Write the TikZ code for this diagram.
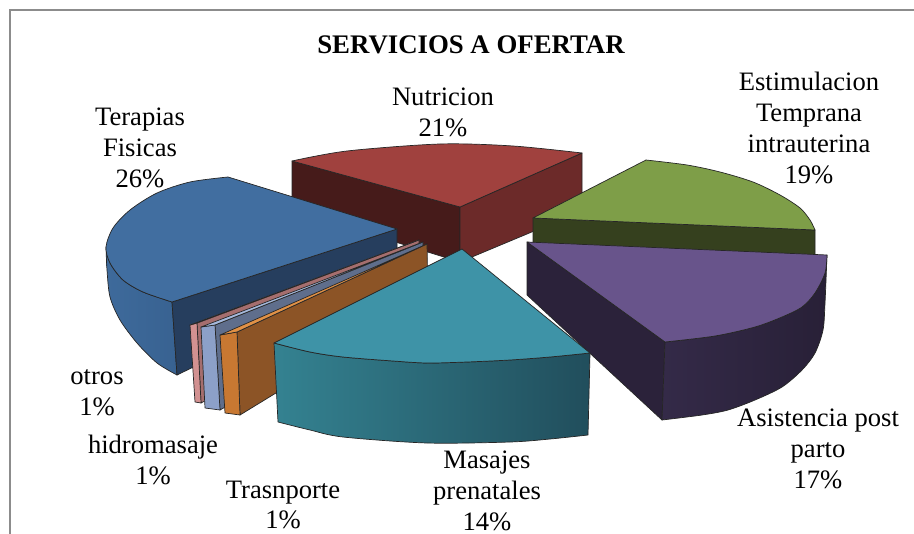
\documentclass[tikz,border=0pt]{standalone}
\usepackage{fontspec}
\setmainfont{Liberation Serif}
\definecolor{framegray}{RGB}{140,140,140}
\definecolor{redT}{RGB}{160,65,62}
\definecolor{redL}{RGB}{70,27,26}
\definecolor{redR}{RGB}{108,42,41}
\definecolor{greenT}{RGB}{126,158,72}
\definecolor{greenF}{RGB}{53,64,30}
\definecolor{blueT}{RGB}{65,110,160}
\definecolor{blueSa}{RGB}{62,106,155}
\definecolor{blueSb}{RGB}{56,98,145}
\definecolor{blueD}{RGB}{38,62,94}
\definecolor{purT}{RGB}{104,84,139}
\definecolor{purD}{RGB}{43,34,58}
\definecolor{purSa}{RGB}{52,42,72}
\definecolor{purSb}{RGB}{40,32,55}
\definecolor{tealT}{RGB}{62,147,167}
\definecolor{tealSa}{RGB}{52,130,145}
\definecolor{tealSb}{RGB}{33,78,92}
\definecolor{orT}{RGB}{225,145,70}
\definecolor{orF}{RGB}{200,120,50}
\definecolor{orD}{RGB}{140,84,38}
\definecolor{lbT}{RGB}{165,185,220}
\definecolor{lbF}{RGB}{140,160,200}
\definecolor{lbD}{RGB}{95,110,140}
\definecolor{pinkT}{RGB}{230,170,170}
\definecolor{pinkF}{RGB}{210,145,145}
\definecolor{pinkD}{RGB}{165,110,110}
\begin{document}
\begin{tikzpicture}[x=0.5pt,y=-0.5pt,
  edge/.style={draw=black!85, line width=0.35pt, line join=round},
  lbl/.style={font=\fontsize{13.3}{15.4}\selectfont, align=center, inner sep=0pt},
  ttl/.style={font=\fontsize{13.4}{15.4}\selectfont\bfseries, inner sep=0pt}]
\useasboundingbox (0,0) rectangle (914,534);
\fill[white] (0,0) rectangle (914,534);
\draw[framegray, line width=0.75pt] (10,534) -- (10,10) -- (914,10);

% Nutricion (red)
\path[edge, fill=redL] (292,161) -- (460,207) -- (460,262) -- (292,210) -- cycle;
\path[edge, fill=redR] (460,207) -- (582,153) -- (582,211) -- (460,262) -- cycle;
\path[edge, fill=redT] (460,207) -- plot[smooth] coordinates {(292,161) (347,151) (440,144) (513,146) (582,153)} -- cycle;

% Estimulacion (green)
\path[edge, fill=greenF] (533,218) -- (815,230) -- (815,262) -- (533,252) -- cycle;
\path[edge, fill=greenT] (533,218) -- plot[smooth] coordinates {(646,160) (687,165) (720,172) (753,182) (780,195) (800,208) (810,220) (815,230)} -- cycle;

% Terapias (blue)
\shadedraw[edge, left color=blueSa, right color=blueSb] plot[smooth] coordinates {(106,247) (110,263) (123,280) (143,292) (172,302)} -- (177,375) -- plot[smooth] coordinates {(177,375) (157,363) (137,343) (120,320) (110,297) (107,270) (106,247)} -- cycle;
\path[edge, fill=blueD] (172,302) -- (397,229) -- (397,268) -- (177,375) -- cycle;
\path[edge, fill=blueT] (397,229) -- plot[smooth] coordinates {(228,177) (190,182) (157,193) (130,210) (113,228) (106,247) (110,263) (123,280) (143,292) (172,302)} -- cycle;

% otros (pink)
\path[edge, fill=pinkD] (197,323) -- (419,240) -- (420,290) -- (201,403) -- cycle;
\path[edge, fill=pinkF] (190,325) -- (197,323) -- (201,403) -- (195,402) -- cycle;
\path[edge, fill=pinkT] (190,325) -- (419,240) -- (197,323) -- cycle;

% hidromasaje (light blue)
\path[edge, fill=lbD] (215,325) -- (423,242) -- (424,295) -- (220,410) -- cycle;
\path[edge, fill=lbF] (201,327) -- (215,325) -- (220,410) -- (205,408) -- cycle;
\path[edge, fill=lbT] (201,327) -- (423,242) -- (215,325) -- cycle;

% Trasnporte (orange)
\path[edge, fill=orD] (237,332) -- (427,244) -- (428,300) -- (240,415) -- cycle;
\path[edge, fill=orF] (220,335) -- (237,332) -- (240,415) -- (225,413) -- cycle;
\path[edge, fill=orT] (220,335) -- (427,244) -- (237,332) -- cycle;

% Asistencia (purple)
\path[edge, fill=purD] (527,242) -- (665,342) -- (662,420) -- (527,295) -- cycle;
\shadedraw[edge, left color=purSa, right color=purSb] plot[smooth] coordinates {(827,255) (825,273) (815,293) (802,307) (782,317) (755,327) (715,336) (665,342)} -- (662,420) -- plot[smooth] coordinates {(662,420) (702,415) (728,410) (755,400) (782,387) (802,370) (815,353) (823,330) (825,303) (827,255)} -- cycle;
\path[edge, fill=purT] (527,242) -- plot[smooth] coordinates {(827,255) (825,273) (815,293) (802,307) (782,317) (755,327) (715,336) (665,342)} -- cycle;

% Masajes (teal)
\shadedraw[edge, left color=tealSa, right color=tealSb] plot[smooth] coordinates {(274,343) (310,352) (343,357) (393,361) (427,363) (467,362) (510,360) (550,357) (590,353)} -- (588,435) -- plot[smooth] coordinates {(588,435) (550,439) (510,442) (427,443) (343,437) (310,430) (278,422)} -- cycle;
\path[edge, fill=tealT] (462,249) -- plot[smooth] coordinates {(590,353) (550,357) (510,360) (467,362) (427,363) (393,361) (343,357) (310,352) (274,343)} -- cycle;

% Labels
\node[ttl] (title) at (471,45) {SERVICIOS A OFERTAR};
\node[lbl] (lnut) at (443,112) {Nutricion\\21\%};
\node[lbl] (lter) at (140,148) {Terapias\\Fisicas\\26\%};
\node[lbl] (lest) at (809,128) {Estimulacion\\Temprana\\intrauterina\\19\%};
\node[lbl] (lasi) at (818,449) {Asistencia post\\parto\\17\%};
\node[lbl] (lmas) at (487,491) {Masajes\\prenatales\\14\%};
\node[lbl] (ltra) at (283,505) {Trasnporte\\1\%};
\node[lbl] (lhid) at (153,460) {hidromasaje\\1\%};
\node[lbl] (lotr) at (97,393) {otros\\1\%};
\end{tikzpicture}
\end{document}
